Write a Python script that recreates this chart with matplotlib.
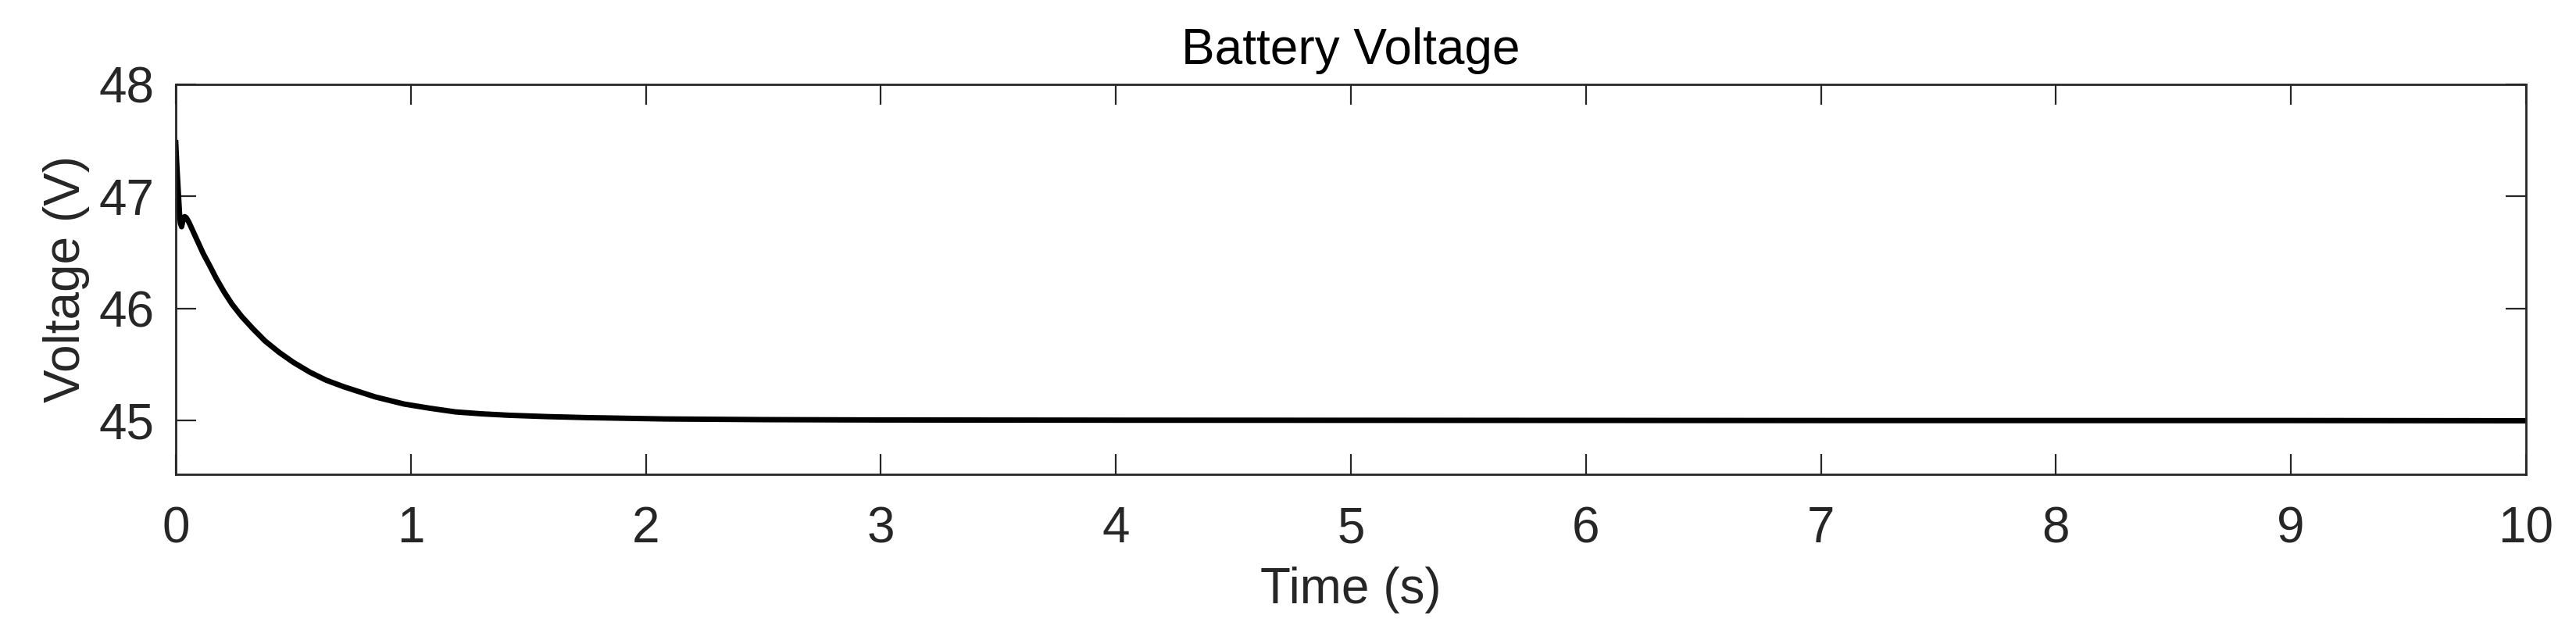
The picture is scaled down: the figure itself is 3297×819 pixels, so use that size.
import matplotlib
matplotlib.use("Agg")
import matplotlib.pyplot as plt

# Data
time_s = [0.0, 0.004, 0.008, 0.012, 0.016, 0.02, 0.025, 0.03, 0.038, 0.045,
          0.056, 0.08, 0.117, 0.145, 0.172, 0.205, 0.239, 0.28, 0.328, 0.38,
          0.439, 0.5, 0.572, 0.64, 0.717, 0.85, 0.972, 1.08, 1.19, 1.3,
          1.417, 1.58, 1.75, 2.08, 2.5, 3.0, 4.0, 5.0, 6.0, 7.0, 8.0, 9.0, 10.0]
voltage_v = [47.48, 47.30, 47.15, 47.00, 46.85, 46.76, 46.73, 46.78, 46.82, 46.81,
             46.77, 46.66, 46.49, 46.38, 46.27, 46.15, 46.04, 45.93, 45.82, 45.71,
             45.61, 45.52, 45.43, 45.36, 45.30, 45.21, 45.147, 45.11, 45.077, 45.06,
             45.047, 45.035, 45.026, 45.014, 45.008, 45.005, 45.003, 45.002, 45.001,
             45.0, 45.0, 45.0, 44.998]

x_ticks = [0, 1, 2, 3, 4, 5, 6, 7, 8, 9, 10]
y_ticks = [45, 46, 47, 48]

plt.rcParams['font.family'] = ['Liberation Sans', 'DejaVu Sans']

fig = plt.figure(figsize=(32.98, 8.19), dpi=100)
ax = fig.add_axes([0.0682, 0.2589, 0.9121, 0.6092])

ax.plot(time_s, voltage_v, color='black', linewidth=5.0, solid_joinstyle='round')

ax.set_xlim(0, 10)
ax.set_ylim(44.52, 48)
ax.set_xticks(x_ticks)
ax.set_yticks(y_ticks)

txt = '#262626'
ax.tick_params(axis='both', which='major', direction='in', length=19, width=1.6,
               colors=txt, labelsize=46, top=True, right=True)
ax.tick_params(axis='x', pad=29)
ax.tick_params(axis='y', pad=20)
for s in ax.spines.values():
    s.set_linewidth(2.0)
    s.set_color(txt)

ax.set_title('Battery Voltage', fontsize=46, color='black', pad=19)
ax.set_xlabel('Time (s)', fontsize=46, color=txt, labelpad=13)
ax.set_ylabel('Voltage (V)', fontsize=46, color=txt, labelpad=8)

fig.savefig('out.png', dpi=100, facecolor='white')
